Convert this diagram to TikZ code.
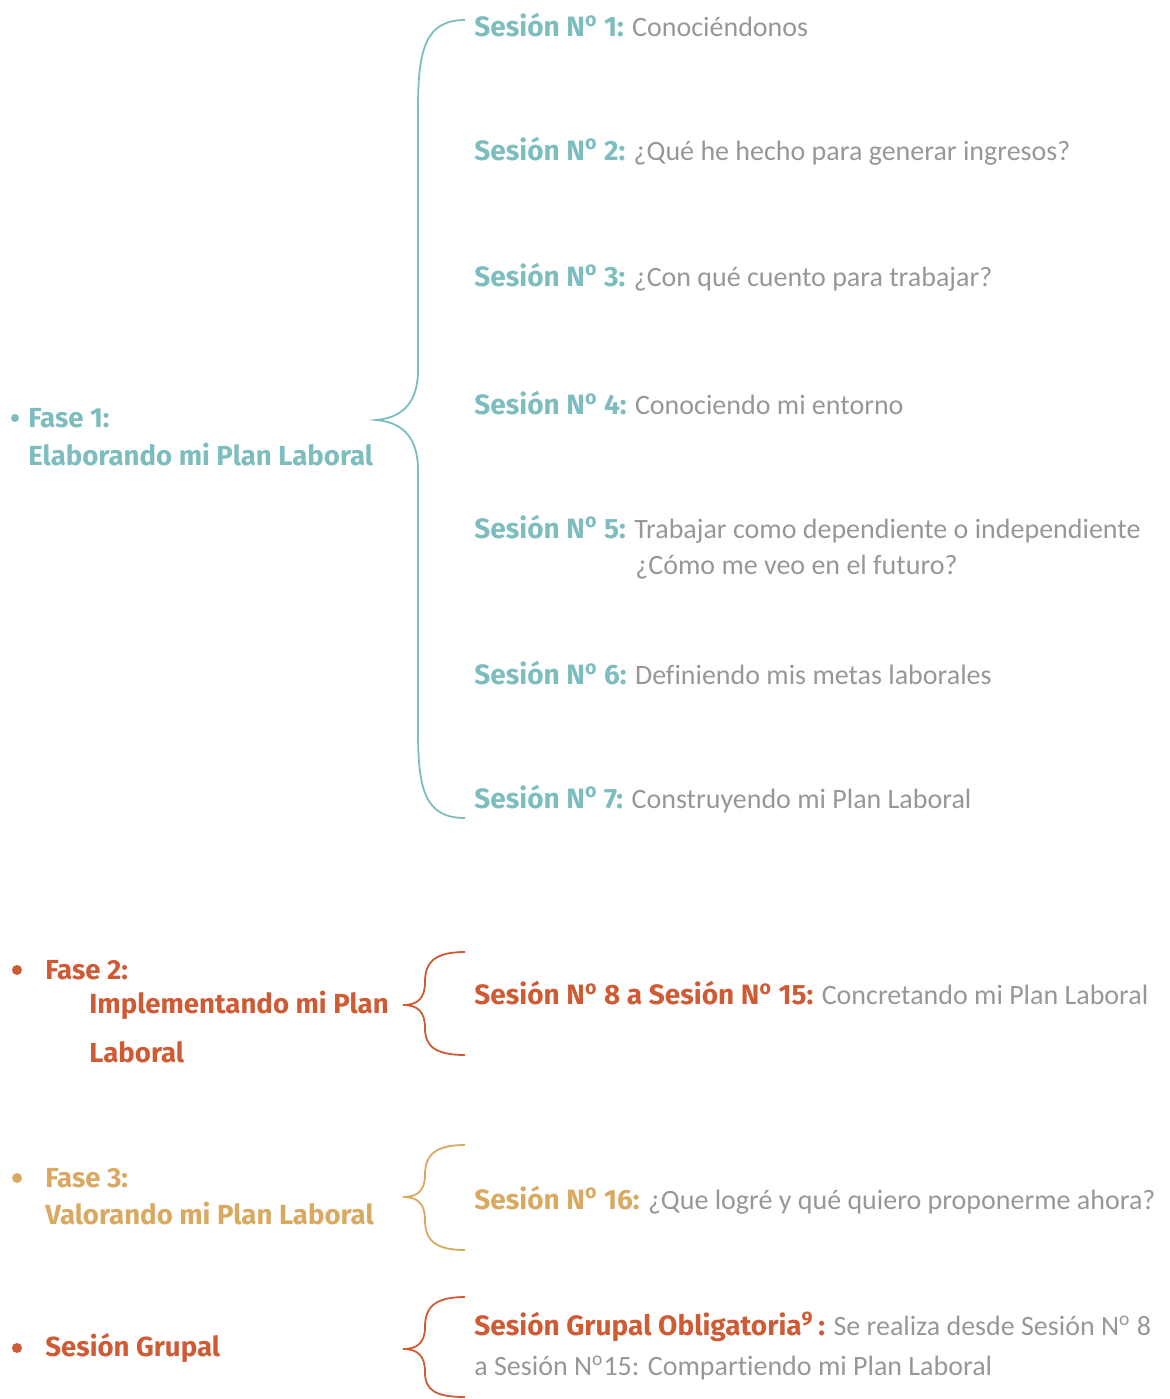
\documentclass[tikz,border=0pt]{standalone}
\usepackage{fontspec}
\setmainfont{Carlito}[Ligatures=NoCommon]
\newfontfamily\headfont{Fira Sans}
\definecolor{fteal}{HTML}{7DBDBF}
\definecolor{forange}{HTML}{CF5B35}
\definecolor{fgold}{HTML}{D9A962}
\definecolor{fgray}{HTML}{979797}
\tikzset{
    sesion/.style={anchor=west, inner sep=0pt, text=fgray, font=\fontsize{14}{17}\selectfont},
    fase/.style={anchor=west, inner sep=0pt, font=\headfont\bfseries\fontsize{13.8}{16}\selectfont},
    llave/.style={line width=0.9pt},
}
\newcommand{\sn}[2]{\textcolor{#1}{\headfont\bfseries #2}}
\newcommand{\nro}{N\textsuperscript{o}}
\begin{document}
\begin{tikzpicture}[x=0.5pt, y=-0.5pt]
    \useasboundingbox (0,0) rectangle (1170,1399);
    % Fase 1
    \fill[fteal] (15,418) circle (4);
    \node[fase, text=fteal] (f1)  at (28,418) {Fase 1:};
    \node[fase, text=fteal] (f1b) at (28,455) {Elaborando mi Plan Laboral};
    \coordinate (t1) at (376,420);
    \draw[llave, fteal] (465,20) .. controls (425,20) and (418,50) .. (418,110)
        -- (418,370) .. controls (418,405) and (400,418) .. (t1)
        .. controls (400,422) and (418,435) .. (418,470)
        -- (418,730) .. controls (418,790) and (425,818) .. (465,818);
    \node[sesion] (s1) at (474,25)  {\sn{fteal}{Sesión \nro\ 1:} Conociéndonos};
    \node[sesion] (s2) at (474,151) {\sn{fteal}{Sesión \nro\ 2:} ¿Qué he hecho para generar ingresos?};
    \node[sesion] (s3) at (474,277) {\sn{fteal}{Sesión \nro\ 3:} ¿Con qué cuento para trabajar?};
    \node[sesion] (s4) at (474,403) {\sn{fteal}{Sesión \nro\ 4:} Conociendo mi entorno};
    \node[sesion] (s5) at (474,529) {\sn{fteal}{Sesión \nro\ 5:} Trabajar como dependiente o independiente};
    \node[sesion] (s5b) at (635,567) {¿Cómo me veo en el futuro?};
    \node[sesion] (s6) at (474,673) {\sn{fteal}{Sesión \nro\ 6:} Definiendo mis metas laborales};
    \node[sesion] (s7) at (474,799) {\sn{fteal}{Sesión \nro\ 7:} Construyendo mi Plan Laboral};
    % Fase 2
    \fill[forange] (17,970) circle (5);
    \node[fase, text=forange] (f2)  at (45,970)  {Fase 2:};
    \node[fase, text=forange] (f2b) at (89,1005) {Implementando mi Plan};
    \node[fase, text=forange] (f2c) at (89,1052) {Laboral};
    \coordinate (t2) at (403,1005);
    \draw[llave, forange] (465,952) .. controls (435,952) and (425,962) .. (425,982)
        .. controls (425,998) and (418,1005) .. (t2)
        .. controls (418,1005) and (425,1012) .. (425,1028)
        .. controls (425,1046) and (435,1055) .. (465,1055);
    \node[sesion] (s8) at (474,993) {\sn{forange}{Sesión \nro\ 8 a Sesión \nro\ 15:} Concretando mi Plan Laboral};
    % Fase 3
    \fill[fgold] (17,1178) circle (5);
    \node[fase, text=fgold] (f3)  at (45,1178) {Fase 3:};
    \node[fase, text=fgold] (f3b) at (45,1214) {Valorando mi Plan Laboral};
    \coordinate (t3) at (403,1197);
    \draw[llave, fgold] (465,1145) .. controls (435,1145) and (425,1155) .. (425,1175)
        .. controls (425,1190) and (418,1197) .. (t3)
        .. controls (418,1197) and (425,1204) .. (425,1220)
        .. controls (425,1240) and (435,1250) .. (465,1250);
    \node[sesion] (s16) at (474,1200) {\sn{fgold}{Sesión \nro\ 16:} ¿Que logré y qué quiero proponerme ahora?};
    % Sesion grupal
    \fill[forange] (17,1348) circle (5);
    \node[fase, text=forange] (g) at (45,1348) {Sesión Grupal};
    \coordinate (t4) at (403,1349);
    \draw[llave, forange] (465,1297) .. controls (435,1297) and (425,1307) .. (425,1327)
        .. controls (425,1342) and (418,1349) .. (t4)
        .. controls (418,1349) and (425,1356) .. (425,1372)
        .. controls (425,1390) and (435,1397) .. (465,1397);
    \node[sesion] (sg)  at (474,1327) {\sn{forange}{Sesión Grupal Obligatoria\textsuperscript{9}\,:} Se realiza desde Sesión \nro\ 8};
    \node[sesion] (sgb) at (474,1368) {a Sesión \nro15: Compartiendo mi Plan Laboral};
\end{tikzpicture}
\end{document}
